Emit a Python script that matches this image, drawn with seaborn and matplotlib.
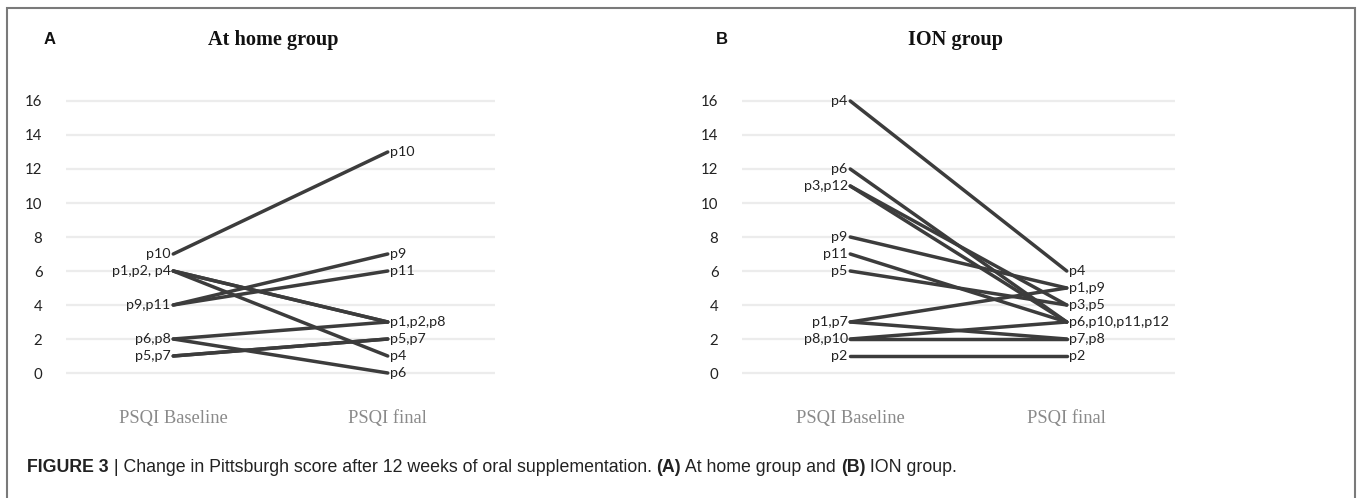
import matplotlib
matplotlib.use("Agg")
import matplotlib.pyplot as plt
import numpy as np
import pandas as pd
import seaborn as sns

# PSQI scores
home_ids = ["p1", "p2", "p4", "p5", "p6", "p7", "p8", "p9", "p10", "p11"]
home_baseline = [6, 6, 6, 1, 2, 1, 2, 4, 7, 4]
home_final = [3, 3, 1, 2, 0, 2, 3, 7, 13, 6]
home_base_labels = {7: "p10", 6: "p1,p2, p4", 4: "p9,p11", 2: "p6,p8", 1: "p5,p7"}
home_final_labels = {13: "p10", 7: "p9", 6: "p11", 3: "p1,p2,p8", 2: "p5,p7", 1: "p4", 0: "p6"}

ion_ids = ["p1", "p2", "p3", "p4", "p5", "p6", "p7", "p8", "p9", "p10", "p11", "p12"]
ion_baseline = [3, 1, 11, 16, 6, 12, 3, 2, 8, 2, 7, 11]
ion_final = [5, 1, 4, 6, 4, 3, 2, 2, 5, 3, 3, 3]
ion_base_labels = {16: "p4", 12: "p6", 11: "p3,p12", 8: "p9", 7: "p11", 6: "p5",
                   3: "p1,p7", 2: "p8,p10", 1: "p2"}
ion_final_labels = {6: "p4", 5: "p1,p9", 4: "p3,p5", 3: "p6,p10,p11,p12", 2: "p7,p8", 1: "p2"}

categories = ["PSQI Baseline", "PSQI final"]
yticks = list(range(0, 17, 2))

sns.set_theme(style="white")
label_font = ["Lato", "DejaVu Sans"]
serif = ["Liberation Serif", "DejaVu Serif"]
plt.rcParams["font.family"] = ["Liberation Sans", "DejaVu Sans"]

line_color = "#3c3c3c"
grid_color = "#ececec"

fig = plt.figure(figsize=(13.57, 4.98), dpi=100)


def make_panel(rect, ids, base, final, base_labels, final_labels, title, title_x, title_size,
               letter, letter_x):
    ax = fig.add_axes(rect)
    df = pd.DataFrame({
        "pid": ids * 2,
        "pos": [0] * len(ids) + [1] * len(ids),
        "score": base + final,
    })
    for y in yticks:
        ax.axhline(y, color=grid_color, lw=1.6, zorder=0)
    sns.lineplot(data=df, x="pos", y="score", units="pid", estimator=None,
                 color=line_color, lw=2.5, ax=ax, legend=False, zorder=3)
    for v, lab in base_labels.items():
        ax.text(-0.012, v, lab, ha="right", va="center", fontsize=10.3,
                family=label_font, color="#222222")
    for v, lab in final_labels.items():
        ax.text(1.012, v, lab, ha="left", va="center", fontsize=10.3,
                family=label_font, color="#222222")
    ax.set_xlim(-0.5, 1.5)
    ax.set_ylim(-0.3, 16.3)
    ax.set_yticks(yticks)
    ax.set_yticklabels([str(t) for t in yticks], family=label_font, fontsize=10.8, color="#222222")
    ax.set_xticks([0, 1])
    ax.set_xticklabels(categories, family=serif, fontsize=13.3, color="#8a8a8a")
    ax.tick_params(axis="y", length=0, pad=17)
    ax.tick_params(axis="x", length=0, pad=23)
    ax.set_xlabel("")
    ax.set_ylabel("")
    for s in ax.spines.values():
        s.set_visible(False)
    fig.text(title_x, 1 - 40 / 498, title, ha="center", va="center", fontsize=title_size,
             fontweight="bold", family=serif, color="#111111")
    fig.text(letter_x, 1 - 39 / 498, letter, ha="center", va="center", fontsize=12,
             fontweight="bold", color="#111111")
    return ax


bottom = (498 - 378.1) / 498
height = (378.1 - 95.9) / 498
make_panel([66 / 1357, bottom, (495 - 66) / 1357, height],
           home_ids, home_baseline, home_final, home_base_labels, home_final_labels,
           "At home group", 273 / 1357, 14.6, "A", 50 / 1357)
make_panel([742 / 1357, bottom, (1175 - 742) / 1357, height],
           ion_ids, ion_baseline, ion_final, ion_base_labels, ion_final_labels,
           "ION group", 955 / 1357, 14.6, "B", 722 / 1357)

# outer frame
frame = plt.Rectangle((7 / 1357, -0.05), (1355 - 7) / 1357, 1 - 8 / 498 + 0.05,
                      transform=fig.transFigure, fill=False, edgecolor="#7a7a7a", lw=1.5)
fig.add_artist(frame)

cap_y = 1 - 467 / 498
cap_size = 12.8
t = fig.text(27 / 1357, cap_y, "FIGURE 3", ha="left", va="center", fontsize=cap_size,
             fontweight="bold", color="#222222")
fig.canvas.draw()
x = t.get_window_extent().x1 / fig.bbox.width
parts = [(" | Change in Pittsburgh score after 12 weeks of oral supplementation. ", "normal"),
         ("(A)", "bold"), (" At home group and ", "normal"), ("(B)", "bold"), (" ION group.", "normal")]
for txt, w in parts:
    tt = fig.text(x, cap_y, txt, ha="left", va="center", fontsize=cap_size, fontweight=w,
                  color="#222222")
    fig.canvas.draw()
    x = tt.get_window_extent().x1 / fig.bbox.width

fig.savefig("out.png", dpi=100)
